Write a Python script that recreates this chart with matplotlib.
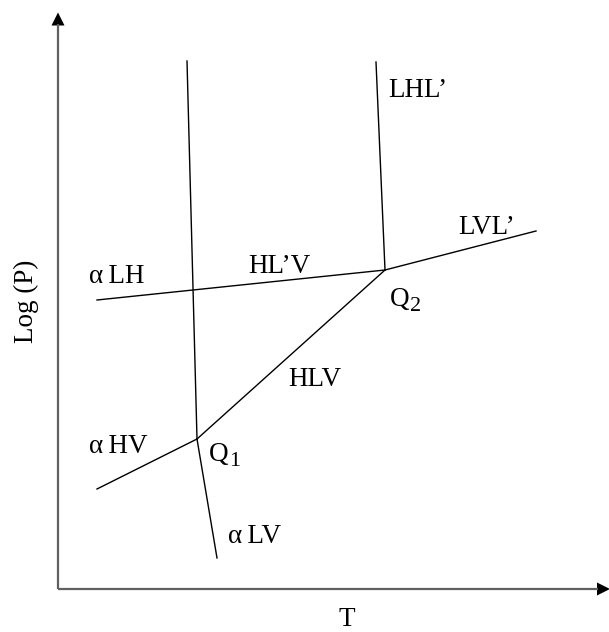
import matplotlib
matplotlib.use("Agg")
import matplotlib.pyplot as plt
from matplotlib.patches import Polygon

plt.rcParams['font.family'] = ['Liberation Serif', 'DejaVu Serif']

# Phase diagram schematic, coordinates in picture units (x right, y down)
Q1 = (197, 439)
Q2 = (385, 270)

# boundary curves: list of (x, y) vertices
curve_LH_Q1 = [(187, 61), Q1]          # near-vertical upper branch
curve_LV = [Q1, (217, 558)]            # alpha L V branch below Q1
curve_aLH = [(97, 300), Q2]            # alpha L H / HL'V
curve_LVL = [Q2, (536, 231)]           # LVL'
curve_LHL = [(376, 62), Q2]            # LHL'
curve_HLV = [Q1, Q2]                   # HLV
curve_aHV = [(97, 489), Q1]            # alpha H V

curves = [curve_LH_Q1, curve_LV, curve_aLH, curve_LVL,
          curve_LHL, curve_HLV, curve_aHV]

# region labels: text, left x, baseline y
labels = ["\u03b1\u2009LH", "HL\u2019V", "LHL\u2019", "LVL\u2019",
          "HLV", "\u03b1\u2009HV", "\u03b1\u2009LV"]
label_x = [89, 248, 388, 458, 288, 89, 228]
label_y = [283, 273, 97, 234, 386, 453, 543]

# point labels with subscripts
points = ["Q", "Q"]
point_subs = ["1", "2"]
point_x = [209, 390]
point_y = [461, 306]

fig = plt.figure(figsize=(6.09, 6.32), dpi=100)
ax = fig.add_axes([0, 0, 1, 1])
ax.set_xlim(0, 609)
ax.set_ylim(632, 0)
ax.axis('off')

# axes with arrows
axis_color = '#606060'
ax.plot([58, 58], [589, 24], color=axis_color, lw=1.6, solid_capstyle='butt')
ax.plot([58, 598], [589, 589], color=axis_color, lw=1.6, solid_capstyle='butt')
ax.add_patch(Polygon([(51.5, 25.5), (64.5, 25.5), (58, 12.5)],
                     closed=True, color='black', lw=0))
ax.add_patch(Polygon([(597, 582.5), (597, 595.5), (610, 589)],
                     closed=True, color='black', lw=0, clip_on=False))

for c in curves:
    xs = [p[0] for p in c]
    ys = [p[1] for p in c]
    ax.plot(xs, ys, color='black', lw=1.0)

fs = 19.5
for t, x, y in zip(labels, label_x, label_y):
    ax.text(x, y, t, fontsize=fs, ha='left', va='baseline')

for t, s, x, y in zip(points, point_subs, point_x, point_y):
    q = ax.text(x, y, t, fontsize=fs, ha='left', va='baseline')
    ax.annotate(s, xy=(1, 0.0), xycoords=q, xytext=(0, -3),
                textcoords='offset points', fontsize=16,
                ha='left', va='bottom')

ax.text(26, 301, "Log (P)", fontsize=fs, rotation=90,
        ha='center', va='center')
ax.text(347, 626, "T", fontsize=fs, ha='center', va='baseline')

fig.savefig("out.png", dpi=100)
